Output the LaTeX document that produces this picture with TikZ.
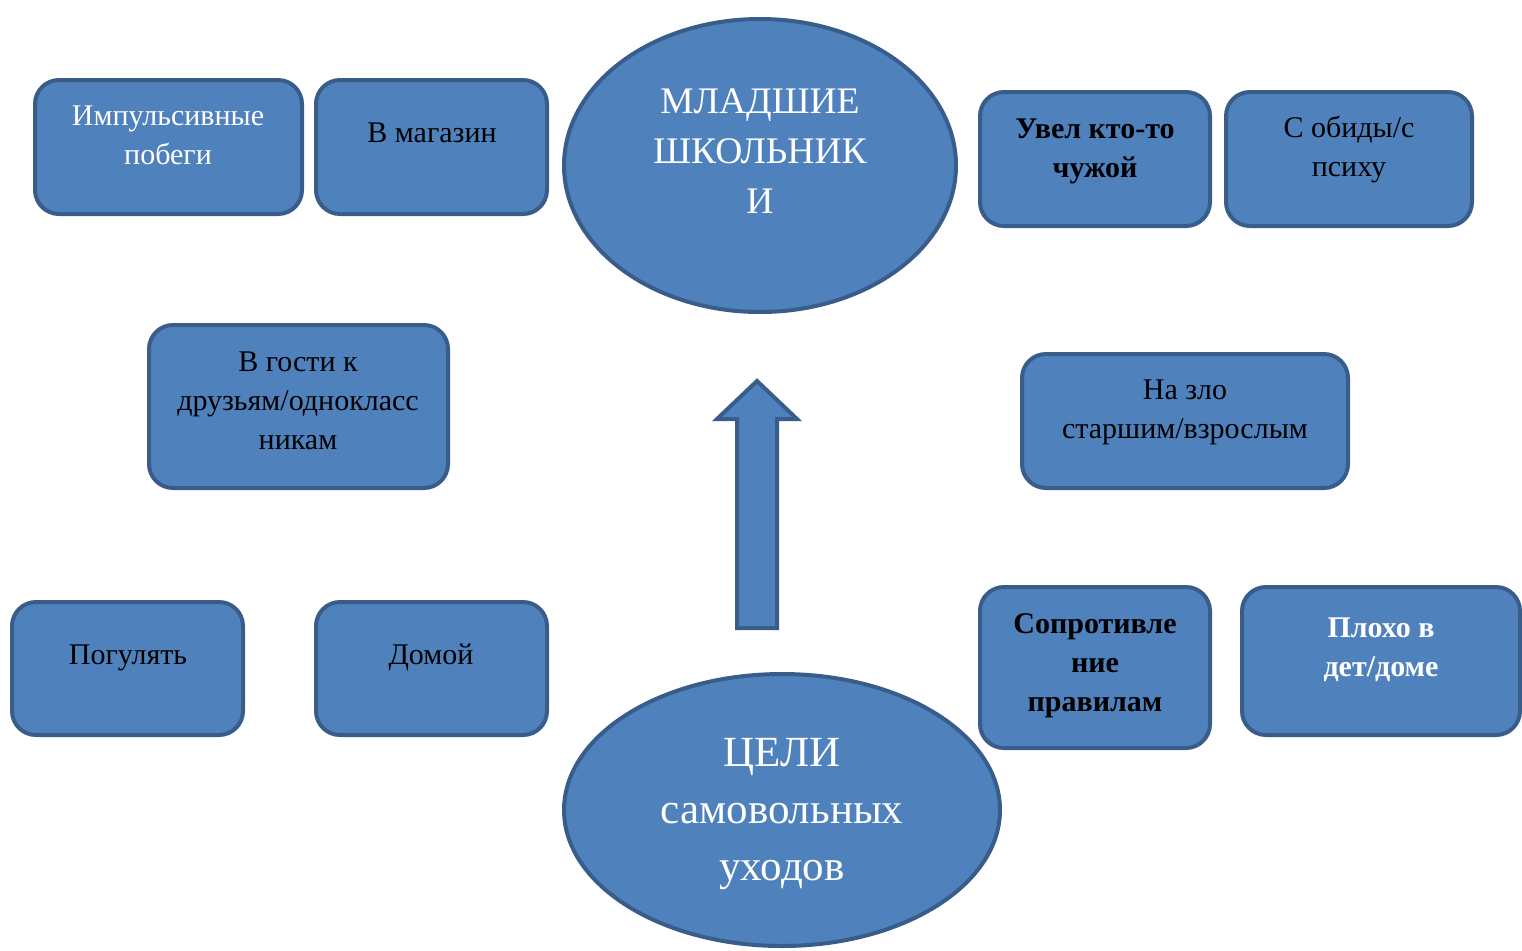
\documentclass[tikz,border=0pt]{standalone}
\usepackage{fontspec}
\setmainfont{Liberation Serif}
\definecolor{boxfill}{HTML}{4F81BD}
\definecolor{boxline}{HTML}{385D8A}
\begin{document}
\begin{tikzpicture}[x=0.5pt,y=-0.5pt,
  box/.style={draw=boxline, fill=boxfill, line width=2pt, rounded corners=12pt, inner sep=0pt, rectangle},
  oval/.style={draw=boxline, fill=boxfill, line width=2pt},
  txt/.style={anchor=base, inner sep=0pt, align=center, font=\fontsize{15}{19.5}\selectfont},
  wt/.style={text=white},
  bt/.style={text=black},
  bigtxt/.style={anchor=base, inner sep=0pt, align=center, text=white, font=\fontsize{18.75}{25}\selectfont},
  hugetxt/.style={anchor=base, inner sep=0pt, align=center, text=white, font=\fontsize{21.5}{28.5}\selectfont}]
\useasboundingbox (0,0) rectangle (1522,950);

% boxes
\node[box, minimum width=133.5pt, minimum height=67pt] (b1) at (168.5,147) {};
\node[box, minimum width=115.5pt, minimum height=67pt] (b2) at (431.5,147) {};
\node[box, minimum width=115pt, minimum height=67pt] (b4) at (1095,159) {};
\node[box, minimum width=123pt, minimum height=67pt] (b5) at (1349,159) {};
\node[box, minimum width=149.5pt, minimum height=81.5pt] (b6) at (298.5,406.5) {};
\node[box, minimum width=163pt, minimum height=67pt] (b7) at (1185,421) {};
\node[box, minimum width=115.5pt, minimum height=66.5pt] (b9) at (127.5,668.5) {};
\node[box, minimum width=115.5pt, minimum height=66.5pt] (b10) at (431.5,668.5) {};
\node[box, minimum width=115pt, minimum height=80.5pt] (b11) at (1095,667.5) {};
\node[box, minimum width=139pt, minimum height=74pt] (b12) at (1381,661) {};

% ellipses
\path[oval] (760,165.5) ellipse [x radius=196, y radius=146.5];
\coordinate (e1) at (760,165.5);
\path[oval] (782,810) ellipse [x radius=218, y radius=136];
\coordinate (e2) at (782,810);

% arrow
\path[oval, line join=miter] (757,381) -- (797,419) -- (777,419) -- (777,628) -- (737,628) -- (737,419) -- (717,419) -- cycle;

% texts (anchor = baseline of the last line)
\node[txt, wt] (t1) at (168,164) {Импульсивные\\побеги};
\node[txt, bt] (t2) at (432,142) {В магазин};
\node[bigtxt] (t3) at (760,213) {МЛАДШИЕ\\ШКОЛЬНИК\\И};
\node[txt, bt, font=\fontsize{15}{19.5}\selectfont\bfseries] (t4) at (1095,177) {Увел кто-то\\чужой};
\node[txt, bt] (t5) at (1349,176) {С обиды/с\\психу};
\node[txt, bt] (t6) at (298,449) {В гости к\\друзьям/однокласс\\никам};
\node[txt, bt] (t7) at (1185,438) {На зло\\старшим/взрослым};
\node[txt, bt] (t9) at (128,664) {Погулять};
\node[txt, bt] (t10) at (431,664) {Домой};
\node[txt, bt, font=\fontsize{15}{19.5}\selectfont\bfseries] (t11) at (1095,711) {Сопротивле\\ние\\правилам};
\node[txt, wt, font=\fontsize{15}{19.5}\selectfont\bfseries] (t12) at (1381,676) {Плохо в\\дет/доме};
\node[hugetxt] (t13) at (782,880) {ЦЕЛИ\\самовольных\\уходов};
\end{tikzpicture}
\end{document}
